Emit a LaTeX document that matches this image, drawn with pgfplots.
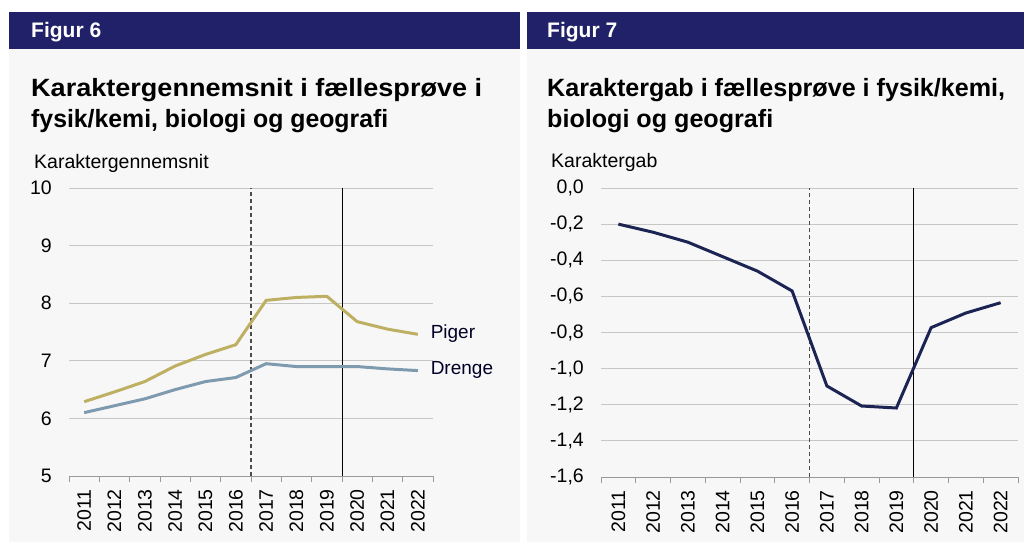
\documentclass[border=0pt]{standalone}
\usepackage{fontspec}
\setmainfont{Liberation Sans}
\usepackage{graphicx}
\usepackage{pgfplots}
\pgfplotsset{compat=1.18}
\definecolor{navy}{HTML}{212169}
\definecolor{panel}{HTML}{F7F7F7}
\definecolor{piger}{HTML}{BDB062}
\definecolor{drenge}{HTML}{7E9AAE}
\definecolor{gab}{HTML}{1B2453}
\definecolor{gridc}{HTML}{C6C6C6}
\definecolor{axisc}{HTML}{9A9A9A}
\pgfplotsset{
 mystyle/.style={
  scale only axis,
  anchor=south west,
  xmin=-0.5, xmax=11.5,
  xtick={0,...,11},
  xticklabels={2011,2012,2013,2014,2015,2016,2017,2018,2019,2020,2021,2022},
  minor xtick={-0.5,0.5,...,11.5},
  axis x line*=bottom, axis y line*=left,
  axis line style={-},
  y axis line style={draw=none},
  x axis line style={draw=axisc, line width=1pt},
  major tick length=0pt, minor tick length=6pt,
  tick align=outside,
  minor tick style={draw=axisc, line width=1pt},
  ymajorgrids, grid style={gridc, line width=0.9pt},
  xticklabel style={rotate=90, anchor=east, inner sep=0pt, font=\fontsize{19.5}{19.5}\selectfont},
  yticklabel style={anchor=east, inner sep=0pt, font=\fontsize{19.5}{19.5}\selectfont},
  xticklabel shift=13pt, yticklabel shift=17pt,
  /pgf/number format/assume math mode=true,
  clip=false,
 }
}
\pgfplotstableread{
x piger drenge gab
0 6.29 6.10 -0.20
1 6.46 6.22 -0.245
2 6.64 6.34 -0.30
3 6.91 6.50 -0.38
4 7.11 6.64 -0.46
5 7.28 6.71 -0.57
6 8.05 6.95 -1.096
7 8.10 6.90 -1.207
8 8.12 6.90 -1.218
9 7.68 6.90 -0.773
10 7.55 6.86 -0.692
11 7.46 6.83 -0.635
}\datatable
\newcommand{\ttl}[2]{\resizebox{#1}{\height}{\bfseries\fontsize{25}{25}\selectfont #2}}
\begin{document}
\begin{tikzpicture}
\fill[white] (0pt,0pt) rectangle (1024pt,542pt);
% panels
\fill[panel] (9pt,0pt) rectangle (520pt,530pt);
\fill[panel] (527pt,0pt) rectangle (1024pt,530pt);
\fill[navy] (9pt,493pt) rectangle (520pt,530pt);
\fill[navy] (527pt,493pt) rectangle (1024pt,530pt);
\node[anchor=base west, inner sep=0, text=white, font=\bfseries\fontsize{21}{21}\selectfont] at (31pt,504pt) {Figur 6};
\node[anchor=base west, inner sep=0, text=white, font=\bfseries\fontsize{21}{21}\selectfont] at (547pt,504pt) {Figur 7};
\node[anchor=base west, inner sep=0] at (31pt,445pt) {\ttl{451pt}{Karaktergennemsnit i fællesprøve i}};
\node[anchor=base west, inner sep=0] at (31pt,414pt) {\ttl{357pt}{fysik/kemi, biologi og geografi}};
\node[anchor=base west, inner sep=0] at (547pt,445pt) {\ttl{458pt}{Karaktergab i fællesprøve i fysik/kemi,}};
\node[anchor=base west, inner sep=0] at (547pt,414pt) {\ttl{226pt}{biologi og geografi}};
\node[anchor=base west, inner sep=0, font=\fontsize{19.5}{19.5}\selectfont] at (34pt,374pt) {Karaktergennemsnit};
\node[anchor=base west, inner sep=0, font=\fontsize{19.5}{19.5}\selectfont] at (551pt,375pt) {Karaktergab};

\begin{axis}[mystyle, at={(69pt,66pt)}, width=364pt, height=288pt,
  ymin=5, ymax=10, ytick={5,6,7,8,9,10}]
\addplot[draw=black!70, line width=1.2pt, dash pattern=on 4pt off 3pt] coordinates {(5.5,5) (5.5,10)};
\addplot[draw=black, line width=1pt] coordinates {(8.5,5) (8.5,10)};
\addplot[piger, line width=3pt] table[x=x, y=piger] {\datatable};
\addplot[drenge, line width=3pt] table[x=x, y=drenge] {\datatable};
\node[anchor=west, inner sep=0, font=\fontsize{19}{19}\selectfont, text=black!85!blue] at (axis cs:11.42,7.47) {Piger};
\node[anchor=west, inner sep=0, font=\fontsize{19}{19}\selectfont, text=black!85!blue] at (axis cs:11.42,6.84) {Drenge};
\end{axis}

\begin{axis}[mystyle, at={(601pt,65pt)}, width=417pt, height=289pt,
  ymin=-1.6, ymax=0, ytick={-1.6,-1.4,-1.2,-1,-0.8,-0.6,-0.4,-0.2,0},
  yticklabel style={/pgf/number format/.cd, use comma, fixed, fixed zerofill, precision=1}]
\addplot[draw=black!70, line width=1.2pt, dash pattern=on 4pt off 3pt] coordinates {(5.5,-1.6) (5.5,0)};
\addplot[draw=black, line width=1pt] coordinates {(8.5,-1.6) (8.5,0)};
\addplot[gab, line width=3pt] table[x=x, y=gab] {\datatable};
\end{axis}
\pgfresetboundingbox
\path (0pt,0pt) rectangle (1024pt,542pt);
\end{tikzpicture}
\end{document}
